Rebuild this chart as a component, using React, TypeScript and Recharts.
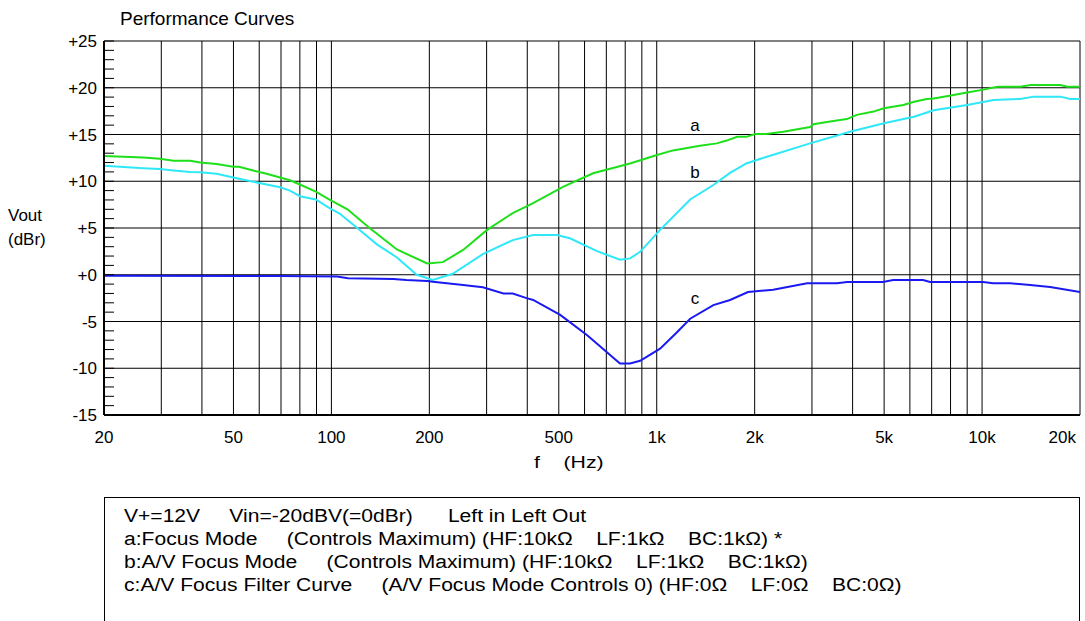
import {
  LineChart,
  Line,
  XAxis,
  YAxis,
  CartesianGrid,
  ReferenceDot,
} from 'recharts'

const FONT = '"Liberation Sans", Arial, sans-serif'

// frequency grid (Hz) and which ones get a label
const GRID_FREQS = [
  20, 30, 40, 50, 60, 70, 80, 90, 100, 200, 300, 400, 500, 600, 700, 800, 900,
  1000, 2000, 3000, 4000, 5000, 6000, 7000, 8000, 9000, 10000, 20000,
]
const FREQ_LABELS: Record<number, string> = {
  20: '20',
  50: '50',
  100: '100',
  200: '200',
  500: '500',
  1000: '1k',
  2000: '2k',
  5000: '5k',
  10000: '10k',
  20000: '20k',
}
const DB_MAJOR = [-15, -10, -5, 0, 5, 10, 15, 20, 25]
const DB_MINOR = Array.from({ length: 41 }, (_, i) => i - 15)

// a: Focus Mode (green)
const A_FREQ = [
  20, 26.4, 29.7, 32.7, 36.8, 39.5, 44.4, 49.9, 52, 57.5, 63.2, 69.5, 74.6, 80,
  89.5, 99, 112, 131, 159, 197, 220, 254, 301, 361, 417, 515, 637, 828, 1002, 1122,
  1358, 1530, 1641, 1766, 1885, 2006, 2170, 2449, 2960, 3030, 3490, 3840, 4120,
  4640, 4990, 5730, 6180, 6760, 7100, 7780, 9000, 10100, 11150, 13100, 14100,
  17400, 18300, 20000,
]
const A_DB = [
  12.7, 12.55, 12.4, 12.2, 12.2, 12.0, 11.85, 11.55, 11.55, 11.15, 10.8, 10.4, 10.1, 9.65,
  8.9, 8.0, 7.0, 5.0, 2.7, 1.2, 1.35, 2.65, 4.8, 6.6, 7.65, 9.4, 10.85, 11.9, 12.8, 13.3,
  13.8, 14.05, 14.35, 14.75, 14.75, 15.05, 15.05, 15.3, 15.8, 16.1, 16.45, 16.65, 17.1,
  17.45, 17.8, 18.15, 18.5, 18.8, 18.85, 19.1, 19.5, 19.8, 20.1, 20.1, 20.3,
  20.3, 20.1, 20.1,
]

// b: A/V Focus Mode (cyan)
const B_FREQ = [
  20, 26.4, 29.7, 32.7, 36.8, 39.5, 44.4, 49.9, 57.5, 69.5, 74.6, 80,
  89.5, 99, 106, 119.6, 138, 159, 183, 205, 236, 292, 361, 417, 493, 541, 653, 771,
  828, 889, 1024, 1267, 1493, 1680,
  1885, 2170, 2960, 3927, 4990, 6180, 7100, 9000, 10850, 13100, 14400, 17400, 18700, 20000,
]
const B_DB = [
  11.65, 11.4, 11.3, 11.15, 11.0, 10.95, 10.8, 10.4, 9.95, 9.35, 9.0, 8.4,
  8.05, 7.1, 6.55, 5.05, 3.25, 1.85, 0.0, -0.55, 0.1, 2.2, 3.7, 4.25, 4.25, 3.9, 2.55, 1.6,
  1.75, 2.45, 4.8, 8.05, 9.6, 10.9,
  11.9, 12.6, 14.05, 15.3, 16.2, 16.9, 17.6, 18.15, 18.7, 18.8, 19.05, 19.05, 18.8, 18.8,
]

// c: A/V Focus Filter Curve (blue)
const C_FREQ = [
  20, 69.5, 104, 112.5, 155, 170, 197, 205, 254, 292, 338, 361, 398, 417, 505, 610,
  637, 771, 828, 889, 1024, 1150, 1267, 1493, 1680, 1908, 2279, 2900, 3583, 3845,
  4962, 5330, 6590, 6920, 10070, 10810, 12200, 14050, 16190, 20000,
]
const C_DB = [
  -0.1, -0.13, -0.2, -0.38, -0.45, -0.56, -0.67, -0.74, -1.1, -1.34, -2.0, -2.0, -2.5, -2.7, -4.3, -6.45,
  -7.0, -9.5, -9.5, -9.2, -7.9, -6.2, -4.7, -3.25, -2.7, -1.85, -1.6, -0.9, -0.9, -0.78,
  -0.78, -0.56, -0.56, -0.78, -0.78, -0.9, -0.9, -1.1, -1.3, -1.85,
]

const CURVE_NAMES = ['a', 'b', 'c']
const CURVE_COLORS = ['#1ee01a', '#2ee8f8', '#1a1af0']
const LABEL_FREQ = [1312, 1312, 1312]
const LABEL_DB = [16.0, 10.95, -2.45]

const NOTES = [
  'V+=12V     Vin=-20dBV(=0dBr)      Left in Left Out',
  'a:Focus Mode     (Controls Maximum) (HF:10kΩ    LF:1kΩ    BC:1kΩ) *',
  'b:A/V Focus Mode     (Controls Maximum) (HF:10kΩ    LF:1kΩ    BC:1kΩ)',
  'c:A/V Focus Filter Curve     (A/V Focus Mode Controls 0) (HF:0Ω    LF:0Ω    BC:0Ω)',
]

const toRows = (freqs: number[], dbs: number[]) =>
  freqs.map((f, i) => ({ f, db: dbs[i] }))

const SERIES = [
  toRows(A_FREQ, A_DB),
  toRows(B_FREQ, B_DB),
  toRows(C_FREQ, C_DB),
]

const fmtDb = (v: number) => (v >= 0 ? `+${v}` : `${v}`)

const Y_TICK_SIZE = 5
const Y_TICK_MARGIN = 2

// every dB gets a short inward tick, every 5 dB a label
function YTick(props: any) {
  const { x, y, payload } = props
  const v = payload.value as number
  const axisX = x + Y_TICK_SIZE + Y_TICK_MARGIN
  return (
    <g>
      <line x1={axisX} x2={axisX + 10} y1={y} y2={y} stroke="#000" strokeWidth={1} />
      {v % 5 === 0 && (
        <text x={x} y={y} dy="0.355em" textAnchor="end" fill="#000" fontSize={17}>
          {fmtDb(v)}
        </text>
      )}
    </g>
  )
}

function XTick(props: any) {
  const { x, y, payload } = props
  const label = FREQ_LABELS[payload.value]
  if (!label) return <g />
  const last = payload.value === 20000
  return (
    <text
      x={last ? x - 4 : x}
      y={y}
      dy="0.71em"
      textAnchor={last ? 'end' : 'middle'}
      fill="#000"
      fontSize={17}
    >
      {label}
    </text>
  )
}

export default function App() {
  return (
    <div
      style={{
        position: 'absolute',
        left: 0,
        top: 0,
        width: 1085,
        height: 621,
        overflow: 'hidden',
        background: '#fff',
        fontFamily: FONT,
        color: '#000',
      }}
    >
      <div style={{ position: 'absolute', left: 120, top: 8, fontSize: 19, lineHeight: '22px' }}>
        Performance Curves
      </div>
      <div style={{ position: 'absolute', left: 8, top: 204, fontSize: 17, lineHeight: '24px' }}>
        Vout
        <br />
        (dBr)
      </div>
      <div
        style={{
          position: 'absolute',
          left: 534,
          top: 453,
          fontSize: 17,
          whiteSpace: 'pre',
          transform: 'scaleX(1.25)',
          transformOrigin: 'left top',
        }}
      >
        {'f    (Hz)'}
      </div>

      <div style={{ position: 'absolute', left: 0, top: 0 }}>
        <LineChart
          width={1085}
          height={470}
          margin={{ top: 41, right: 5, bottom: 0, left: 0 }}
          style={{ fontFamily: FONT }}
        >
          <CartesianGrid stroke="#000" strokeWidth={1} horizontalValues={DB_MAJOR} />
          <XAxis
            dataKey="f"
            type="number"
            scale="log"
            domain={[20, 20000]}
            ticks={GRID_FREQS}
            interval={0}
            allowDataOverflow
            tickLine={false}
            tickSize={6}
            tickMargin={10}
            height={55}
            axisLine={{ stroke: '#000', strokeWidth: 2 }}
            tick={<XTick />}
          />
          <YAxis
            type="number"
            domain={[-15, 25]}
            ticks={DB_MINOR}
            interval={0}
            allowDataOverflow
            width={104}
            tickLine={false}
            tickSize={Y_TICK_SIZE}
            tickMargin={Y_TICK_MARGIN}
            axisLine={{ stroke: '#000', strokeWidth: 2 }}
            tick={<YTick />}
          />
          {SERIES.map((rows, i) => (
            <Line
              key={CURVE_NAMES[i]}
              data={rows}
              dataKey="db"
              type="linear"
              stroke={CURVE_COLORS[i]}
              strokeWidth={2}
              dot={false}
              activeDot={false}
              isAnimationActive={false}
            />
          ))}
          {CURVE_NAMES.map((name, i) => (
            <ReferenceDot
              key={`lbl-${name}`}
              x={LABEL_FREQ[i]}
              y={LABEL_DB[i]}
              r={0}
              fill="none"
              stroke="none"
              label={{ value: name, position: 'center', fill: '#000', fontSize: 17 }}
            />
          ))}
        </LineChart>
      </div>

      <div
        style={{
          position: 'absolute',
          left: 104,
          top: 497,
          width: 976,
          height: 200,
          boxSizing: 'border-box',
          border: '1.5px solid #000',
          padding: '7px 0 0 19px',
          fontSize: 18,
          lineHeight: '23px',
          whiteSpace: 'pre',
        }}
      >
        {NOTES.map((t) => (
          <div key={t} style={{ transform: 'scaleX(1.17)', transformOrigin: 'left center' }}>
            {t}
          </div>
        ))}
      </div>
    </div>
  )
}
